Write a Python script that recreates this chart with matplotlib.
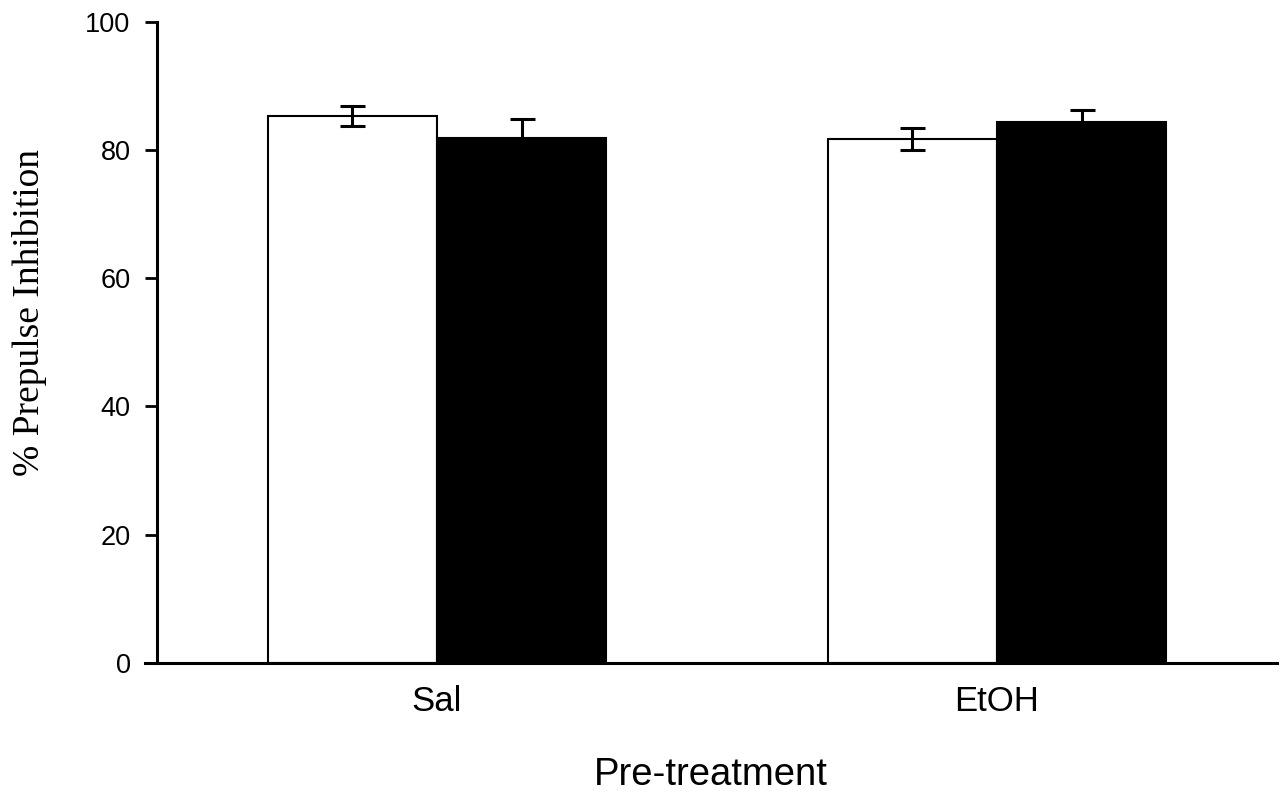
import matplotlib
matplotlib.use("Agg")
import matplotlib.pyplot as plt
import numpy as np

groups = ["Sal", "EtOH"]
white_vals = [85.3, 81.7]
white_err = [1.6, 1.7]
black_vals = [81.9, 84.4]
black_err = [3.0, 1.8]
yticks = [0, 20, 40, 60, 80, 100]

fig = plt.figure(figsize=(12.84, 7.96), dpi=100)
ax = fig.add_axes([157/1284, 1-662.7/796, (1277-157)/1284, (662.7-22)/796])

x = np.arange(len(groups))
w = 0.302
ax.bar(x - w/2, white_vals, w, color="white", edgecolor="black", linewidth=1.5, zorder=2)
ax.bar(x + w/2, black_vals, w, color="black", edgecolor="black", linewidth=1.5, zorder=2)
ax.errorbar(x - w/2, white_vals, yerr=white_err, fmt="none", ecolor="black",
            elinewidth=2.2, capsize=9, capthick=2.2, zorder=3)
ax.errorbar(x + w/2, black_vals, yerr=black_err, fmt="none", ecolor="black",
            elinewidth=2.2, capsize=9, capthick=2.2, zorder=1)

ax.set_xlim(-0.5, 1.5)
ax.set_ylim(0, 100)
ax.set_yticks(yticks)
ax.set_yticklabels([str(t) for t in yticks], fontsize=19.5, family="Liberation Sans")
ax.tick_params(axis="y", direction="out", length=9, width=2, pad=10)
ax.set_xticks(x)
ax.set_xticklabels(groups, fontsize=25, family="Liberation Sans")
ax.tick_params(axis="x", length=0, pad=16)

for s in ["top", "right"]:
    ax.spines[s].set_visible(False)
ax.spines["left"].set_linewidth(2.2)
ax.spines["bottom"].set_visible(False)
ax.plot([-12/1120, 1], [0, 0], transform=ax.transAxes, color="black",
        linewidth=2.2, clip_on=False, zorder=4)

fig.text(711/1284, 1-775/796, "Pre-treatment", fontsize=27.5, family="Liberation Sans",
         ha="center", va="center")
fig.text(30/1284, 1-313/796, "% Prepulse Inhibition", fontsize=27, family="Liberation Serif",
         ha="center", va="center", rotation=90)

fig.savefig("out.png", dpi=100)
